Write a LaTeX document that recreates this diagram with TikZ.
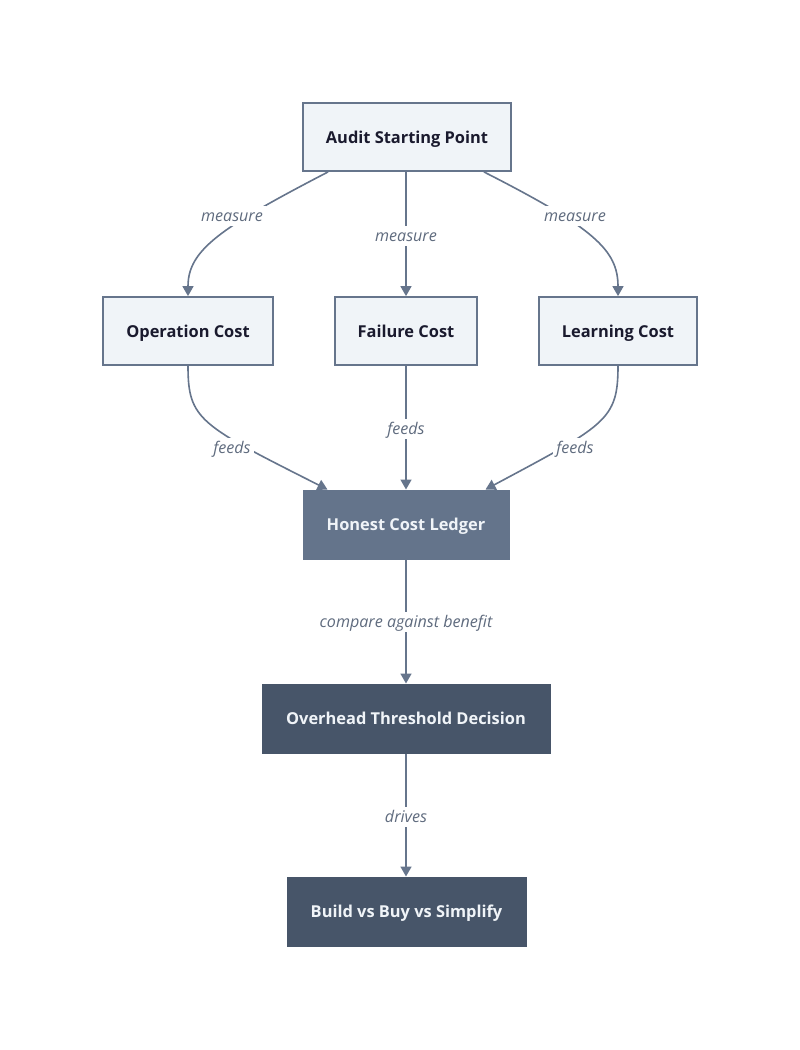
\documentclass[tikz,border=0pt]{standalone}
\usepackage{fontspec}
\setmainfont{Open Sans}
\usetikzlibrary{arrows.meta}
\definecolor{edgec}{HTML}{66758C}
\definecolor{lightfill}{HTML}{F0F4F8}
\definecolor{midfill}{HTML}{64748B}
\definecolor{darkfill}{HTML}{475569}
\definecolor{darktext}{HTML}{1A1A2E}
\definecolor{lighttext}{HTML}{F0F4F8}
\definecolor{labeltext}{HTML}{5F6B7E}
\tikzset{
  basebox/.style={rectangle, inner sep=0pt, text height=12pt, text depth=0pt, font=\fontsize{16.4}{19}\selectfont\bfseries},
  lightbox/.style={basebox, draw=edgec, line width=1.8pt, fill=lightfill, text=darktext},
  midbox/.style={basebox, draw=midfill, line width=1pt, fill=midfill, text=lighttext},
  darkbox/.style={basebox, draw=darkfill, line width=1pt, fill=darkfill, text=lighttext},
  conn/.style={draw=edgec, line width=1.6pt, -{Triangle[length=10pt,width=11pt]}},
  lbl/.style={anchor=base, fill=white, inner xsep=3pt, inner ysep=0.5pt, text height=15pt, text depth=4pt, text=labeltext, font=\fontsize{16.1}{19}\selectfont\itshape},
}
\begin{document}
\begin{tikzpicture}[x=1pt,y=-1pt]
\useasboundingbox[fill=white] (0,0) rectangle (800,1050);
\node[lightbox, minimum width=208pt, minimum height=68pt] (audit) at (407,137) {Audit Starting Point};
\node[lightbox, minimum width=170pt, minimum height=68pt] (op) at (188,331) {Operation Cost};
\node[lightbox, minimum width=142pt, minimum height=68pt] (fail) at (406,331) {Failure Cost};
\node[lightbox, minimum width=158pt, minimum height=68pt] (learn) at (618,331) {Learning Cost};
\node[midbox, minimum width=206pt, minimum height=69pt] (ledger) at (406,524.5) {Honest Cost Ledger};
\node[darkbox, minimum width=288pt, minimum height=69pt] (over) at (406,718.5) {Overhead Threshold Decision};
\node[darkbox, minimum width=239pt, minimum height=69pt] (build) at (406.5,911.5) {Build vs Buy vs Simplify};

% measure edges
\draw[conn] ([xshift=26pt]audit.south west) .. controls (220,228) and (188,250) .. (op.north);
\node[lbl] (m1) at (232,221) {measure};
\draw[conn] (audit.south -| fail.north) -- (fail.north);
\node[lbl] (m2) at (406,241) {measure};
\draw[conn] ([xshift=-28pt]audit.south east) .. controls (594,228) and (618,250) .. (learn.north);
\node[lbl] (m3) at (575,221) {measure};

% feeds edges
\draw[conn] (op.south) .. controls (188,420) and (200,425) .. ([xshift=25pt]ledger.north west);
\node[lbl] (f1) at (232,453) {feeds};
\draw[conn] (fail.south) -- (fail.south |- ledger.north);
\node[lbl] (f2) at (406,434) {feeds};
\draw[conn] (learn.south) .. controls (618,420) and (606,425) .. ([xshift=-24pt]ledger.north east);
\node[lbl] (f3) at (575,453) {feeds};

\draw[conn] (ledger.south) -- (over.north);
\node[lbl] (c1) at (406,627) {compare against benefit};
\draw[conn] (over.south) -- (over.south |- build.north);
\node[lbl] (d1) at (406,822) {drives};
\end{tikzpicture}
\end{document}
